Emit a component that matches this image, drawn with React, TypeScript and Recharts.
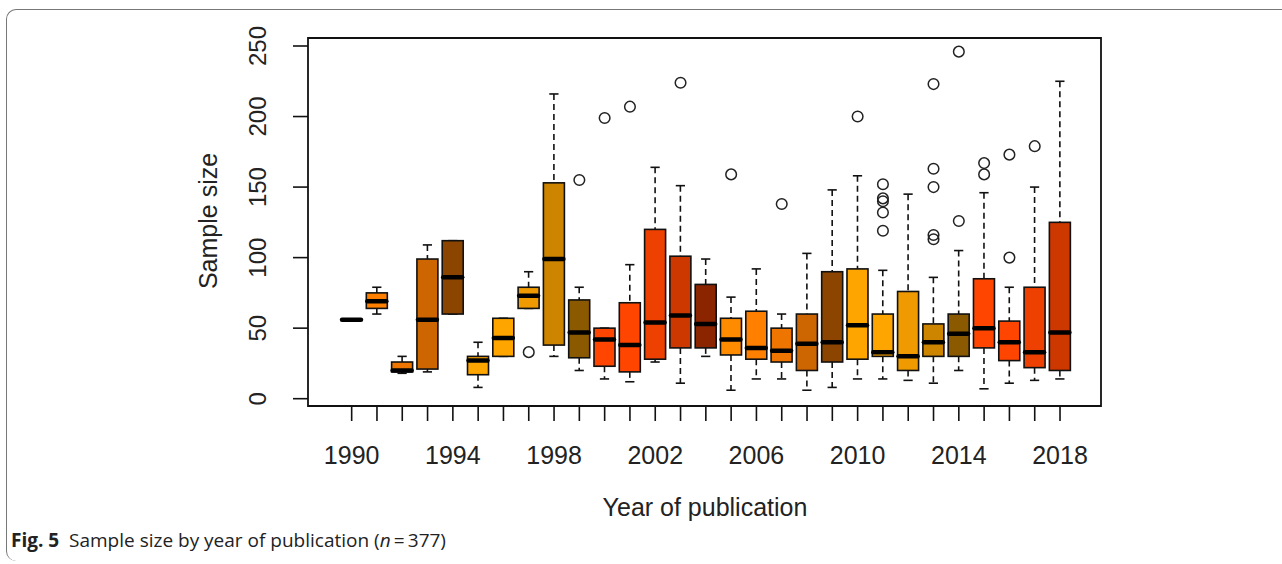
import React from 'react';
import { ComposedChart, Bar, Scatter, XAxis, YAxis, ReferenceArea } from 'recharts';

// one box per publication year, 1990-2018
const years = [
  1990, 1991, 1992, 1993, 1994, 1995, 1996, 1997, 1998, 1999,
  2000, 2001, 2002, 2003, 2004, 2005, 2006, 2007, 2008, 2009,
  2010, 2011, 2012, 2013, 2014, 2015, 2016, 2017, 2018,
];
const whiskerLow = [56, 60, 18, 19, 60, 8, 30, 64, 30, 20, 14, 12, 26, 11, 30, 6, 14, 14, 6, 8, 14, 14, 13, 11, 20, 7, 11, 13, 14];
const q1 = [56, 64, 19, 21, 60, 17, 30, 64, 38, 29, 23, 19, 28, 36, 36, 31, 28, 26, 20, 26, 28, 30, 20, 30, 30, 36, 27, 22, 20];
const median = [56, 69, 20, 56, 86, 27, 43, 73, 99, 47, 42, 38, 54, 59, 53, 42, 36, 34, 39, 40, 52, 33, 30, 40, 46, 50, 40, 33, 47];
const q3 = [56, 75, 26, 99, 112, 30, 57, 79, 153, 70, 50, 68, 120, 101, 81, 57, 62, 50, 60, 90, 92, 60, 76, 53, 60, 85, 55, 79, 125];
const whiskerHigh = [56, 79, 30, 109, 112, 40, 57, 90, 216, 79, 50, 95, 164, 151, 99, 72, 92, 60, 103, 148, 158, 91, 145, 86, 105, 146, 79, 150, 225];
const outliers: number[][] = [
  [], [], [], [], [], [], [], [33], [], [155],
  [199], [207], [], [224], [], [159], [], [138], [], [],
  [200], [152, 142, 140, 132, 119], [], [223, 163, 150, 116, 113], [246, 126], [167, 159], [173, 100], [179], [],
];
const boxColors = [
  '#FF8C00', '#FF7F00', '#EE7600', '#CD6600', '#8B4500',
  '#FFA500', '#FFA500', '#EE9A00', '#CD8500', '#8B5A00',
  '#FF4500', '#FF4500', '#EE4000', '#CD3700', '#8B2500',
  '#FF8C00', '#FF7F00', '#EE7600', '#CD6600', '#8B4500',
  '#FFA500', '#FFA500', '#EE9A00', '#CD8500', '#8B5A00',
  '#FF4500', '#FF4500', '#EE4000', '#CD3700',
];
const yTicks = [0, 50, 100, 150, 200, 250];

const Y_DOMAIN: [number, number] = [-5.18, 255.67];
const X_DOMAIN: [number, number] = [-0.726, 30.62];
const FONT = '"Liberation Sans", Arial, sans-serif';

const boxData = years.map((year, i) => ({
  pos: i + 1,
  year,
  lo: whiskerLow[i],
  q1: q1[i],
  med: median[i],
  q3: q3[i],
  hi: whiskerHigh[i],
  color: boxColors[i],
}));

const outlierData = outliers.flatMap((vals, i) => vals.map((value) => ({ pos: i + 1, value })));

// the bar spans the whole y domain, so its rect gives us the y scale for the quartiles
const BoxShape = (props: any) => {
  const { x, y, width, height, payload } = props;
  const top = Math.min(y, y + height);
  const span = Math.abs(height);
  const sy = (v: number) => top + (span * (Y_DOMAIN[1] - v)) / (Y_DOMAIN[1] - Y_DOMAIN[0]);
  const cx = x + width / 2;
  const cap = width * 0.22;
  const d = payload;
  return (
    <g>
      <line x1={cx} x2={cx} y1={sy(d.hi)} y2={sy(d.q3)} stroke="#111" strokeWidth={1.6} strokeDasharray="6 4" />
      <line x1={cx} x2={cx} y1={sy(d.q1)} y2={sy(d.lo)} stroke="#111" strokeWidth={1.6} strokeDasharray="6 4" />
      <line x1={cx - cap} x2={cx + cap} y1={sy(d.hi)} y2={sy(d.hi)} stroke="#111" strokeWidth={1.6} />
      <line x1={cx - cap} x2={cx + cap} y1={sy(d.lo)} y2={sy(d.lo)} stroke="#111" strokeWidth={1.6} />
      <rect x={x} y={sy(d.q3)} width={width} height={sy(d.q1) - sy(d.q3)} fill={d.color} stroke="#111" strokeWidth={1.6} />
      <line x1={x + 1} x2={x + width - 1} y1={sy(d.med)} y2={sy(d.med)} stroke="#000" strokeWidth={4.5} strokeLinecap="round" />
    </g>
  );
};

const Outlier = (props: any) => (
  <circle cx={props.cx} cy={props.cy} r={5.3} fill="none" stroke="#222" strokeWidth={1.5} />
);

const XTick = (props: any) => {
  const { x, y, payload } = props;
  const i = payload.value - 1;
  if (i % 4 !== 0) return null;
  return (
    <text x={x} y={y + 32} textAnchor="middle" dominantBaseline="central" fontSize={25} fontFamily={FONT} fill="#222">
      {years[i]}
    </text>
  );
};

const YTick = (props: any) => {
  const { x, y, payload } = props;
  const tx = x - 33;
  return (
    <text x={tx} y={y} textAnchor="middle" dominantBaseline="central" fontSize={24} fontFamily={FONT} fill="#222"
      transform={`rotate(-90 ${tx} ${y})`}>
      {payload.value}
    </text>
  );
};

export default function App() {
  return (
    <div style={{ position: 'absolute', left: 0, top: 0, width: 1282, height: 564, background: '#fff', overflow: 'hidden' }}>
      <div style={{
        position: 'absolute', left: 6, top: 9, width: 1300, height: 551,
        borderTop: '1.5px solid #777', borderLeft: '1.5px solid #777',
        borderTopLeftRadius: 10, borderBottomLeftRadius: 10,
      }} />
      <ComposedChart width={1282} height={564} data={boxData}
        margin={{ top: 38, right: 181, bottom: 98, left: 208 }} style={{ position: 'absolute', left: 0, top: 0 }}>
        <XAxis type="number" dataKey="pos" domain={X_DOMAIN} allowDataOverflow ticks={boxData.map((d) => d.pos)}
          interval={0} height={60} tickSize={15} axisLine={false} tickLine={{ stroke: '#111', strokeWidth: 1.6 }} tick={<XTick />} />
        <YAxis type="number" domain={Y_DOMAIN} allowDataOverflow ticks={yTicks} width={100} tickSize={15}
          axisLine={false} tickLine={{ stroke: '#111', strokeWidth: 1.6 }} tick={<YTick />} />
        <ReferenceArea x1={X_DOMAIN[0]} x2={X_DOMAIN[1]} y1={Y_DOMAIN[0]} y2={Y_DOMAIN[1]}
          fill="none" fillOpacity={0} stroke="#111" strokeWidth={1.8} />
        <Bar dataKey={() => Y_DOMAIN} barSize={21} shape={<BoxShape />} isAnimationActive={false} />
        <Scatter data={outlierData} dataKey="value" shape={<Outlier />} isAnimationActive={false} />
      </ComposedChart>
      <div style={{
        position: 'absolute', left: 208, top: 221, transform: 'translate(-50%, -50%) rotate(-90deg)',
        fontFamily: FONT, fontSize: 25, color: '#222', whiteSpace: 'nowrap',
      }}>Sample size</div>
      <div style={{
        position: 'absolute', left: 705, top: 507, transform: 'translate(-50%, -50%)',
        fontFamily: FONT, fontSize: 25, color: '#222', whiteSpace: 'nowrap',
      }}>Year of publication</div>
      <div style={{
        position: 'absolute', left: 11, top: 527, fontFamily: '"Open Sans", "Noto Sans", sans-serif',
        fontSize: 19, color: '#222', whiteSpace: 'nowrap',
      }}>
        <b>Fig. 5</b>&nbsp; Sample size by year of publication (<i>n</i>&thinsp;=&thinsp;377)
      </div>
    </div>
  );
}
